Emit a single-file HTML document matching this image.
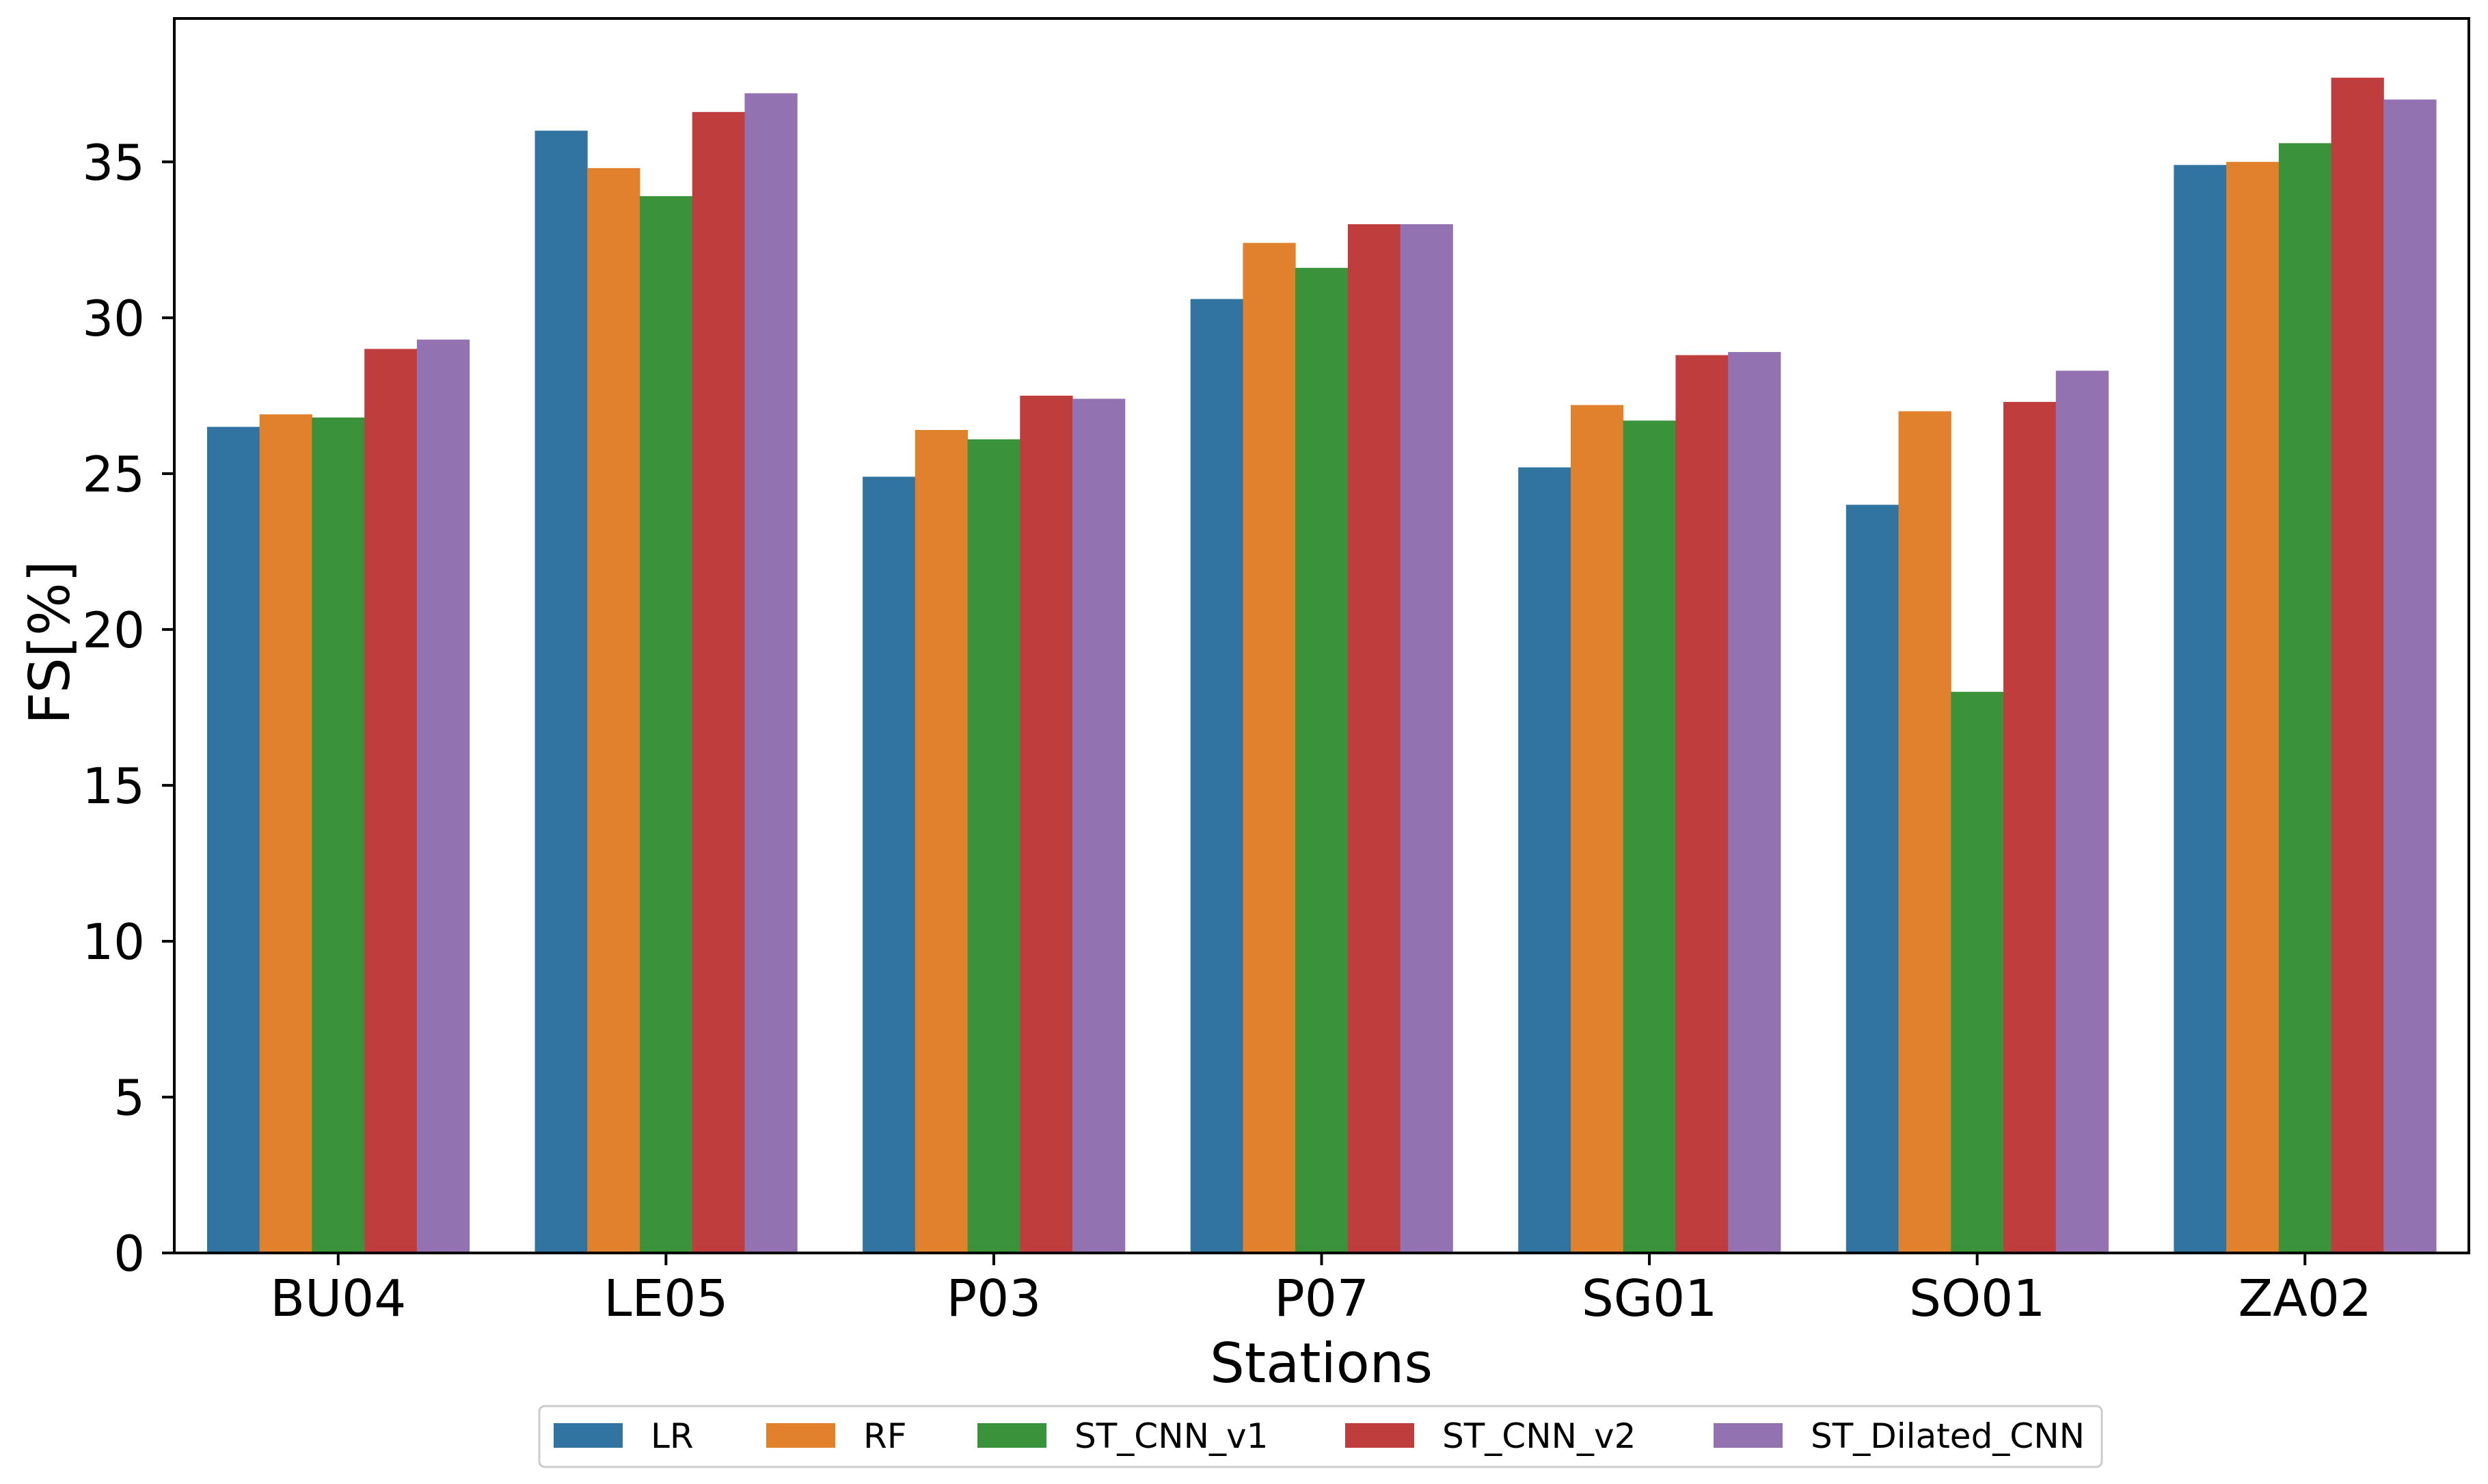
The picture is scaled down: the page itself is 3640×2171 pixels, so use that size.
<!DOCTYPE html>
<html><head><meta charset="utf-8"><style>
html,body{margin:0;padding:0;background:#fff;}
svg{display:block;font-family:"DejaVu Sans","Liberation Sans",sans-serif;}
</style></head><body>
<svg id="chart" width="3640" height="2171" viewBox="0 0 3640 2171" xmlns="http://www.w3.org/2000/svg">
<g id="bars"></g>
<g id="axes"></g>
<g id="legend"></g>
</svg>
<script>
const categories = ["BU04","LE05","P03","P07","SG01","SO01","ZA02"];
const seriesNames = ["LR","RF","ST_CNN_v1","ST_CNN_v2","ST_Dilated_CNN"];
const seriesColors = ["#3274a1","#e1812c","#3a923a","#c03d3e","#9372b2"];
const lrValues = [26.5,36.0,24.9,30.6,25.2,24.0,34.9];
const rfValues = [26.9,34.8,26.4,32.4,27.2,27.0,35.0];
const cnnV1Values = [26.8,33.9,26.1,31.6,26.7,18.0,35.6];
const cnnV2Values = [29.0,36.6,27.5,33.0,28.8,27.3,37.7];
const dilatedValues = [29.3,37.2,27.4,33.0,28.9,28.3,37.0];
const yTicks = [0,5,10,15,20,25,30,35];

const allSeries = [lrValues,rfValues,cnnV1Values,cnnV2Values,dilatedValues];
const NS="http://www.w3.org/2000/svg";
const L=255,R=3612,T=27,B=1833;
const yMin=0,yMax=39.6;
function y(v){return B-(v-yMin)/(yMax-yMin)*(B-T);}
const bandW=(R-L)/categories.length;
function xCenter(i){return L+bandW*(i+0.5);}
const barW=bandW*0.8/seriesNames.length;
function mk(tag,attrs,parent){const e=document.createElementNS(NS,tag);for(const k in attrs)e.setAttribute(k,attrs[k]);parent.appendChild(e);return e;}

const gb=document.getElementById('bars');
allSeries.forEach((vals,s)=>{
  vals.forEach((v,i)=>{
    const x0=xCenter(i)-bandW*0.4+s*barW;
    const r=mk('rect',{x:x0,y:y(v),width:barW+0.5,height:y(0)-y(v),fill:seriesColors[s]},gb);
    
    
  });
});

const ga=document.getElementById('axes');
const frame=mk('rect',{x:L,y:T,width:R-L,height:B-T,fill:'none',stroke:'#000','stroke-width':4},ga);


yTicks.forEach(t=>{
  const tk=mk('line',{x1:237,x2:L,y1:y(t),y2:y(t),stroke:'#000','stroke-width':4},ga);
  
  
  const tx=mk('text',{x:212,y:y(t)+26,'text-anchor':'end','font-size':72,fill:'#000'},ga);
  tx.textContent=t;
  
  
});
categories.forEach((c,i)=>{
  const tk=mk('line',{x1:xCenter(i),x2:xCenter(i),y1:B,y2:B+18,stroke:'#000','stroke-width':4},ga);
  
  
  const tx=mk('text',{x:xCenter(i),y:1925,'text-anchor':'middle','font-size':74,fill:'#000'},ga);
  tx.textContent=c;
  
  
});
const xl=mk('text',{x:1933,y:2022,'text-anchor':'middle','font-size':80,fill:'#000'},ga);
xl.textContent='Stations';


const yl=mk('text',{x:0,y:0,'text-anchor':'middle','font-size':82,fill:'#000',transform:'translate(101,940) rotate(-90)'},ga);
yl.textContent='FS[%]';



const gl=document.getElementById('legend');
const lb=mk('rect',{x:789,y:2057,width:2286,height:89,rx:8,fill:'#fff',stroke:'#ccc','stroke-width':3},gl);


const legendX=[810,1121,1430,1968,2507];
seriesNames.forEach((n,s)=>{
  const p=mk('rect',{x:legendX[s],y:2082,width:101,height:36,fill:seriesColors[s]},gl);
  
  
  const t=mk('text',{x:legendX[s]+142,y:2118,'font-size':50,fill:'#000'},gl);
  t.textContent=n;
  
  
});
</script>
</body></html>
